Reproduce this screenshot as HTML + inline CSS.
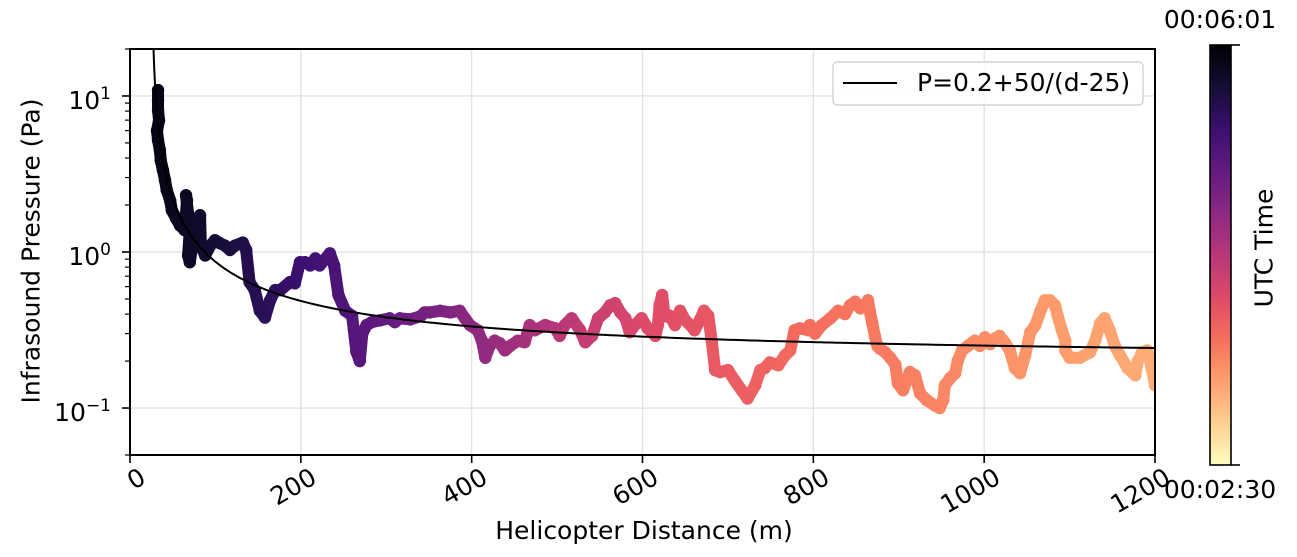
<!DOCTYPE html>
<html><head><meta charset="utf-8"><style>
body{margin:0;background:#fff;}
#wrap{position:relative;width:1297px;height:557px;overflow:hidden;}
#wrap svg{position:absolute;left:0;top:0;}
.t{position:absolute;font-family:"DejaVu Sans","Liberation Sans",sans-serif;font-size:25px;line-height:1;color:#000;white-space:nowrap;}
.t sup{font-size:17px;vertical-align:10px;line-height:0;}
</style></head><body>
<div id="wrap">
<svg id="chart" width="1297" height="557" xmlns="http://www.w3.org/2000/svg">
<defs>
<linearGradient id="magma" x1="0" y1="1" x2="0" y2="0">
<stop offset="0" stop-color="rgb(252,253,191)"/><stop offset="0.1" stop-color="rgb(254,207,146)"/>
<stop offset="0.2" stop-color="rgb(254,159,109)"/><stop offset="0.3" stop-color="rgb(246,110,92)"/>
<stop offset="0.4" stop-color="rgb(222,73,104)"/><stop offset="0.5" stop-color="rgb(183,55,121)"/>
<stop offset="0.6" stop-color="rgb(140,41,129)"/><stop offset="0.7" stop-color="rgb(100,26,128)"/>
<stop offset="0.8" stop-color="rgb(59,15,112)"/><stop offset="0.9" stop-color="rgb(20,14,54)"/>
<stop offset="1" stop-color="rgb(0,0,4)"/>
</linearGradient>
<clipPath id="plotclip"><rect x="130" y="49" width="1025" height="406"/></clipPath>
</defs>
<g id="grid"></g>
<g id="marks" clip-path="url(#plotclip)"></g>
<g id="fit" clip-path="url(#plotclip)"></g>
<rect x="130" y="49" width="1025" height="406" fill="none" stroke="#000" stroke-width="2"/>
<g id="axes"></g>
<rect x="833" y="62" width="310" height="43" rx="4" fill="#fff" fill-opacity="0.8" stroke="#ccc" stroke-width="1.2"/>
<line x1="843" y1="83" x2="897" y2="83" stroke="#000" stroke-width="2"/>
<rect x="1210" y="45" width="21" height="420" fill="url(#magma)" stroke="#000" stroke-width="1.6"/>
<line x1="1231" y1="45" x2="1240" y2="45" stroke="#000" stroke-width="1.6"/>
<line x1="1231" y1="465" x2="1240" y2="465" stroke="#000" stroke-width="1.6"/>
</svg>
<div class="t" style="left:644px;top:518px;transform:translateX(-50%);">Helicopter Distance (m)</div>
<div class="t" style="left:31px;top:251px;transform:translate(-50%,-50%) rotate(-90deg);">Infrasound Pressure (Pa)</div>
<div class="t" style="left:917px;top:70px;">P=0.2+50/(d-25)</div>
<div class="t" style="left:1220px;top:7px;transform:translateX(-50%);">00:06:01</div>
<div class="t" style="left:1220px;top:477px;transform:translateX(-50%);">00:02:30</div>
<div class="t" style="left:1264px;top:248px;transform:translate(-50%,-50%) rotate(-90deg);">UTC Time</div>
</div>
<script>
const distances=[32.8,32.8,32.8,34,31.6,32.8,35,36,38.6,41,43,47,49,54,58.5,64,66.7,65.6,68,70,68,70,74,80,82,83,88,94,99.5,105,111,117,123,132,136,140,146,152,158,164,170,176,187,193,199,205,211,217,222,234,239,244,252,260,265,269,272,277,283,293,304,310,
316,328,340,345,351,363,375,386,392,398,407,412,416,421,427,433,439,445,454,462,468,474,486,498,503,509,517,527,533,541,548,556,562,568,574,580,585,591,599,606,615,618,620,623,626,632,638,644,650,656,661,667,672,677,681,685,691,700,708,716,723,732,738,743,749,759,767,
773,778,784,794,796,802,810,820,829,837,843,849,855,860,864,866,869,872,875,878,884,890,896,899,905,913,919,925,933,942,948,952,954,960,966,969,974,981,989,995,1001,1007,1013,1018,1024,1030,1036,1042,1048,1054,1060,1066,1071,1077,1083,1086,1091,1095,1095,1100,1112,1124,1130,1136,1141,1147,1153,1159,1168,1177,1180,1185,1191,1196,1200];
const pressures=[10.9,9.4,8.1,6.98,6.0,5.2,4.5,3.87,3.34,2.88,2.49,2.14,1.85,1.64,1.48,1.38,2.14,2.31,1.77,1.38,0.95,0.86,1.19,1.48,1.72,1.10,0.95,1.10,1.19,1.14,1.10,1.03,1.10,1.15,1.03,0.64,0.57,0.42,0.38,0.49,0.57,0.57,0.64,0.63,0.86,0.86,0.82,0.91,0.82,0.98,0.82,0.53,0.42,0.39,0.23,0.20,0.30,0.34,0.355,0.365,0.376,0.355,
0.376,0.37,0.387,0.41,0.41,0.42,0.41,0.42,0.376,0.34,0.315,0.27,0.21,0.25,0.27,0.26,0.234,0.25,0.27,0.264,0.34,0.315,0.34,0.324,0.29,0.34,0.376,0.315,0.264,0.29,0.376,0.41,0.455,0.47,0.41,0.376,0.306,0.34,0.376,0.324,0.29,0.34,0.455,0.53,0.387,0.39,0.34,0.42,0.365,0.34,0.315,0.365,0.42,0.39,0.27,0.175,0.17,0.175,0.15,0.13,0.115,0.14,0.175,0.18,0.196,0.188,0.218,
0.234,0.315,0.324,0.315,0.34,0.30,0.34,0.376,0.42,0.40,0.455,0.48,0.435,0.455,0.49,0.42,0.35,0.29,0.25,0.24,0.228,0.21,0.19,0.144,0.13,0.17,0.162,0.124,0.112,0.104,0.10,0.112,0.14,0.155,0.167,0.20,0.234,0.25,0.27,0.25,0.284,0.257,0.28,0.29,0.264,0.234,0.18,0.167,0.218,0.306,0.34,0.42,0.49,0.49,0.455,0.39,0.315,0.27,0.234,0.21,0.21,0.228,0.27,0.35,0.376,0.315,0.25,0.218,0.18,0.162,0.20,0.228,0.234,0.18,0.14,0.13];
const xTicks=[0,200,400,600,800,1000,1200];
const xTickLabels=["0","200","400","600","800","1000","1200"];
const yDecades=[-1,0,1];
const yTickLabels=["10","10","10"];
const yTickExps=["\u22121","0","1"];
const fitA=0.2, fitB=50, fitC=25;

const L=130,R=1155,T=49,B=455,X0=0,X1=1200,Ymin=Math.log10(0.05),Ymax=Math.log10(20);
const NS="http://www.w3.org/2000/svg";
const wrap=document.getElementById('wrap');
function xs(d){return L+(d-X0)/(X1-X0)*(R-L);}
function ys(p){return B-(Math.log10(p)-Ymin)/(Ymax-Ymin)*(B-T);}
function mk(tag,attrs,parent){const e=document.createElementNS(NS,tag);for(const k in attrs)e.setAttribute(k,attrs[k]);parent.appendChild(e);return e;}
const stops=[[0,0,0,4],[0.1,20,14,54],[0.2,59,15,112],[0.3,100,26,128],[0.4,140,41,129],[0.5,183,55,121],[0.6,222,73,104],[0.7,246,110,92],[0.8,254,159,109],[0.9,254,207,146],[1,252,253,191]];
function magma(t){t=Math.max(0,Math.min(1,t));for(let i=1;i<stops.length;i++){if(t<=stops[i][0]){const a=stops[i-1],b=stops[i],f=(t-a[0])/(b[0]-a[0]);return `rgb(${Math.round(a[1]+f*(b[1]-a[1]))},${Math.round(a[2]+f*(b[2]-a[2]))},${Math.round(a[3]+f*(b[3]-a[3]))})`;}}return "rgb(252,253,191)";}
const cd=[0,60,200,300,600,800,1200],cv=[0.0,0.06,0.2,0.3,0.6,0.7,0.83];
function colorFor(d){for(let i=1;i<cd.length;i++){if(d<=cd[i]){const f=(d-cd[i-1])/(cd[i]-cd[i-1]);return magma(cv[i-1]+f*(cv[i]-cv[i-1]));}}return magma(0.83);}

const grid=document.getElementById('grid'),axes=document.getElementById('axes');
xTicks.forEach((v,i)=>{
  const x=xs(v);
  const g=mk('line',{x1:x,y1:T,x2:x,y2:B,stroke:'#e3e3e3','stroke-width':1.4},grid);
  
  
  const t=mk('line',{x1:x,y1:B,x2:x,y2:B+8,stroke:'#000','stroke-width':1.6},axes);
  
  
  const lb=document.createElement('div');
  lb.className='t';
  lb.style.right=(1297-(x+7))+'px';
  lb.style.top=(B+9)+'px';
  lb.style.transformOrigin='100% 0';
  lb.style.transform='rotate(-30deg)';
  lb.textContent=xTickLabels[i];
  
  
  wrap.appendChild(lb);
});
yDecades.forEach((e,i)=>{
  const y=ys(Math.pow(10,e));
  const g=mk('line',{x1:L,y1:y,x2:R,y2:y,stroke:'#e3e3e3','stroke-width':1.4},grid);
  
  
  const t=mk('line',{x1:L-8,y1:y,x2:L,y2:y,stroke:'#000','stroke-width':1.6},axes);
  
  
  const lb=document.createElement('div');
  lb.className='t';
  lb.style.right=(1297-(L-19))+'px';
  lb.style.top=(y-8)+'px';
  lb.innerHTML=yTickLabels[i]+'<sup>'+yTickExps[i]+'</sup>';
  
  
  wrap.appendChild(lb);
  for(let m=2;m<=9;m++){const p=m*Math.pow(10,e);const yy=ys(p);if(yy<T-0.5||yy>B+0.5)continue;
    const mt=mk('line',{x1:L-5,y1:yy,x2:L,y2:yy,stroke:'#000','stroke-width':1.2},axes);
    
    }
});
{const m=0.05,yy=ys(m);const mt=mk('line',{x1:L-5,y1:yy,x2:L,y2:yy,stroke:'#000','stroke-width':1.2},axes);}

const marks=document.getElementById('marks');
for(let i=distances.length-1;i>=0;i--){
  const c=colorFor(distances[i]);
  if(i>0){const s=mk('line',{x1:xs(distances[i-1]),y1:ys(pressures[i-1]),x2:xs(distances[i]),y2:ys(pressures[i]),stroke:c,'stroke-width':12,'stroke-linecap':'round'},marks);
    
    }
  const dot=mk('circle',{cx:xs(distances[i]),cy:ys(pressures[i]),r:6.2,fill:c},marks);
  
  
}
let pts=[];
for(let d=fitC+2;d<=X1;d+=(d<100?0.25:4)){pts.push(xs(d).toFixed(2)+','+ys(fitA+fitB/(d-fitC)).toFixed(2));}
const fl=mk('polyline',{points:pts.join(' '),fill:'none',stroke:'#000','stroke-width':2},document.getElementById('fit'));


</script>
</body></html>
